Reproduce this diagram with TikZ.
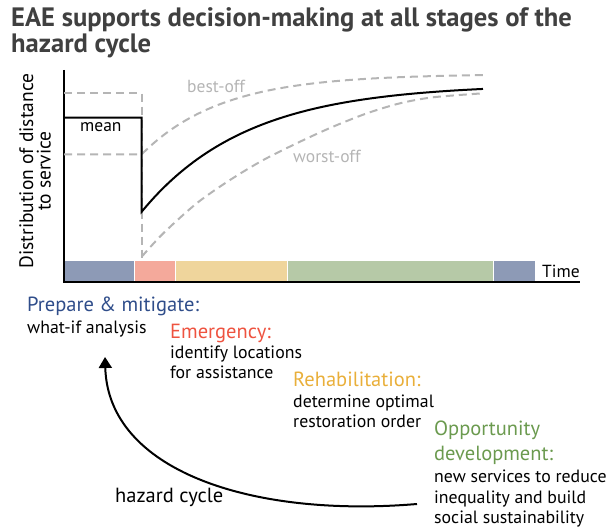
\documentclass[tikz,border=0pt]{standalone}
\usepackage{fontspec}
\setmainfont{PT Sans}
\usetikzlibrary{arrows.meta}
\definecolor{titlegray}{HTML}{404040}
\definecolor{dashgray}{HTML}{B5B5B5}
\definecolor{barblue}{HTML}{8D9AB6}
\definecolor{barpink}{HTML}{F4A99B}
\definecolor{baryellow}{HTML}{EFD59C}
\definecolor{bargreen}{HTML}{B6C9A7}
\definecolor{prepblue}{HTML}{2F4D8A}
\definecolor{emred}{HTML}{EE5340}
\definecolor{reyellow}{HTML}{E9AF3A}
\definecolor{opgreen}{HTML}{6B9A4F}
\tikzset{
  head/.style={anchor=base west, inner sep=0pt, font=\fontsize{20.5}{20.5}\selectfont},
  body/.style={anchor=base west, inner sep=0pt, font=\fontsize{17.8}{17.8}\selectfont},
  small/.style={anchor=base west, inner sep=0pt, font=\fontsize{17.5}{17.5}\selectfont},
  titletxt/.style={anchor=base west, inner sep=0pt, font=\bfseries\fontsize{26.6}{26.6}\selectfont, text=titlegray},
  dashline/.style={draw=dashgray, line width=2pt, dash pattern=on 8pt off 5pt},
  meanline/.style={draw=black, line width=2pt},
  axisline/.style={draw=black, line width=2pt},
}
\begin{document}
\begin{tikzpicture}[x=1pt,y=-1pt]
\useasboundingbox (0,0) rectangle (613,529);
% title
\node[titletxt] (t1) at (11,27) {EAE supports decision-making at all stages of the};
\node[titletxt] (t2) at (11,53) {hazard cycle};
% y label
\node[rotate=90, align=center, inner sep=0pt, font=\fontsize{19.5}{17.5}\selectfont] (ylab) at (35,171) {Distribution of distance\\to service};
% colour bar
\fill[barblue] (64,261) rectangle (134,281);
\fill[barpink] (135,261) rectangle (175,281);
\fill[baryellow] (176,261) rectangle (287,281);
\fill[bargreen] (288,261) rectangle (493,281);
\fill[barblue] (494,261) rectangle (535,281);
% axes
\coordinate (ytop) at (64,70);
\coordinate (orig) at (64,282);
\coordinate (xend) at (580,282);
\draw[axisline] (ytop) -- (orig) -- (xend);
\node[small] (time) at (542,278) {Time};
% dashed envelopes
\draw[dashline] (64,93.3) -- (141.7,93.3) -- (141.7,260);
\draw[dashline] (64,154.3) -- plot[domain=141.7:483, samples=80] (\x, {74+80.3*exp(-(\x-141.7)/80)});
\draw[dashline] plot[smooth] coordinates {(141.7,256.7) (163.3,233.3) (196.7,203.3) (230,180) (263.3,160) (300,141.7) (333,126.7) (367,113.3) (400,103.3) (433,97.3) (483,93.3)};
% mean
\draw[meanline] (64,117.7) -- (141.7,117.7) -- (141.7,211.7) -- plot[domain=141.7:483, samples=80] (\x, {84+127.7*exp(-(\x-141.7)/105)});
\node[small] (mean) at (80,131.7) {mean};
\node[small, text=dashgray] (best) at (187,93) {best-off};
\node[small, text=dashgray] (worst) at (293,163) {worst-off};
% stage texts
\node[head, text=prepblue] (prep1) at (27,312) {Prepare \& mitigate:};
\node[body] (prep2) at (27,334) {what-if analysis};
\node[head, text=emred] (em1) at (170,338) {Emergency:};
\node[body] (em2) at (170,358) {identify locations};
\node[body] (em3) at (170,378) {for assistance};
\node[head, text=reyellow] (re1) at (293,386) {Rehabilitation:};
\node[body] (re2) at (293,407) {determine optimal};
\node[body] (re3) at (293,427) {restoration order};
\node[head, text=opgreen] (op1) at (434,435) {Opportunity};
\node[head, text=opgreen] (op2) at (434,460) {development:};
\node[body] (op3) at (434,482) {new services to reduce};
\node[body] (op4) at (434,503) {inequality and build};
\node[body] (op5) at (434,523) {social sustainability};
\node[head] (hz) at (115,502) {hazard cycle};
% hazard cycle arrow
\coordinate (cstart) at (417,504);
\coordinate (cend) at (105,357);
\draw[line width=2pt, -{Triangle[length=11pt,width=13pt]}] (cstart) .. controls (250,518) and (108,470) .. (cend);
\end{tikzpicture}
\end{document}
